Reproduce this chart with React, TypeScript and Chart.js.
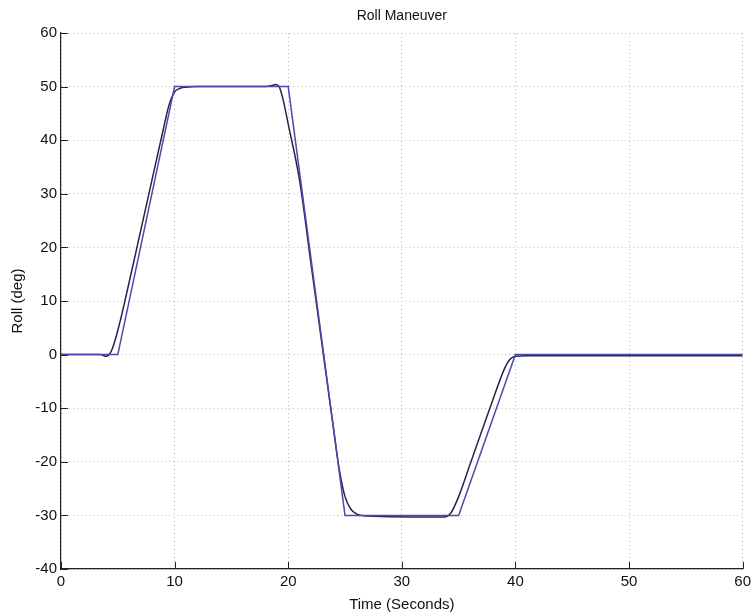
import React, { useEffect, useRef } from "react";
import { Chart, registerables } from "chart.js";

Chart.register(...registerables);

const chartTitle = "Roll Maneuver";
const xTitle = "Time (Seconds)";
const yTitle = "Roll (deg)";

const xTicks = [0, 10, 20, 30, 40, 50, 60];
const yTicks = [-40, -30, -20, -10, 0, 10, 20, 30, 40, 50, 60];

// commanded roll (trapezoid)
const timeCmd = [0, 5, 10, 20, 25, 35, 40, 60];
const rollCmd = [0, 0, 50, 50, -30, -30, 0, 0];

// measured roll response
const timeResp = [0, 3.5, 3.9, 4.2, 4.5, 5, 6, 7, 8, 9, 9.5, 10, 10.5, 11, 12, 18, 18.6, 18.9, 19.2, 19.5, 20, 21, 22, 23, 24, 24.5, 25, 25.5, 26, 27, 33.7, 34.3, 35, 36, 37, 38, 39, 39.5, 40, 41, 60];
const rollResp = [0, 0, -0.3, -0.1, 1, 4.5, 13.5, 23, 32.5, 42, 46.5, 49, 49.7, 49.9, 50, 50, 50.2, 50.4, 50, 48, 43, 32.5, 17, 1.5, -14, -21.5, -26.5, -28.8, -29.7, -30.1, -30.3, -29.6, -26.5, -20.5, -14.5, -8.5, -2.8, -0.9, -0.3, -0.2, -0.2];

const FONT = "Arial, 'Liberation Sans', Helvetica, sans-serif";

export default function App() {
  const ref = useRef<HTMLCanvasElement | null>(null);

  useEffect(() => {
    document.body.style.margin = "0";
    const canvas = ref.current;
    if (!canvas) return;

    const textPlugin = {
      id: "matlabDecor",
      afterDraw(chart: any) {
        const { ctx, chartArea, scales } = chart;
        const xs = scales.x;
        const ys = scales.y;
        ctx.save();
        ctx.strokeStyle = "#222";
        ctx.lineWidth = 1;
        ctx.beginPath();
        for (const t of xTicks) {
          const px = Math.round(xs.getPixelForValue(t)) + 0.5;
          ctx.moveTo(px, chartArea.bottom);
          ctx.lineTo(px, chartArea.bottom - 7);
        }
        for (const t of yTicks) {
          const py = Math.round(ys.getPixelForValue(t)) + 0.5;
          ctx.moveTo(chartArea.left, py);
          ctx.lineTo(chartArea.left + 7, py);
        }
        ctx.stroke();

        ctx.fillStyle = "#111";
        ctx.textAlign = "center";
        ctx.textBaseline = "middle";
        ctx.font = `14px ${FONT}`;
        ctx.fillText(chartTitle, (chartArea.left + chartArea.right) / 2, 16);
        ctx.font = `15px ${FONT}`;
        ctx.fillText(xTitle, (chartArea.left + chartArea.right) / 2, 605);
        ctx.translate(18, (chartArea.top + chartArea.bottom) / 2);
        ctx.rotate(-Math.PI / 2);
        ctx.fillText(yTitle, 0, 0);
        ctx.restore();
      },
    };

    const chart = new Chart(canvas, {
      type: "line",
      data: {
        datasets: [
          {
            label: "Command",
            data: timeCmd.map((t, i) => ({ x: t, y: rollCmd[i] })),
            borderColor: "#4a4aa8",
            borderWidth: 1.5,
            pointRadius: 0,
            tension: 0,
          },
          {
            label: "Response",
            data: timeResp.map((t, i) => ({ x: t, y: rollResp[i] })),
            borderColor: "#23234e",
            borderWidth: 1.5,
            pointRadius: 0,
            cubicInterpolationMode: "monotone",
          },
        ],
      },
      options: {
        animation: false,
        responsive: false,
        devicePixelRatio: 1,
        layout: { padding: { top: 33, right: 10, bottom: 0, left: 0 } },
        plugins: {
          legend: { display: false },
          title: { display: false },
          tooltip: { enabled: false },
        },
        scales: {
          x: {
            type: "linear",
            min: 0,
            max: 60,
            afterBuildTicks: (s: any) => {
              s.ticks = xTicks.map((v) => ({ value: v }));
            },
            afterFit: (s: any) => {
              s.height = 47;
            },
            ticks: {
              padding: 4,
              color: "#111",
              font: { family: FONT, size: 15 },
              maxRotation: 0,
            },
            grid: {
              color: "#b8b8b8",
              lineWidth: 1,
              drawTicks: false,
            },
            border: { display: true, color: "#222", width: 1.2, dash: [1, 3] },
          },
          y: {
            type: "linear",
            min: -40,
            max: 60,
            afterBuildTicks: (s: any) => {
              s.ticks = yTicks.map((v) => ({ value: v }));
            },
            afterFit: (s: any) => {
              s.width = 61;
            },
            ticks: {
              padding: 4,
              color: "#111",
              font: { family: FONT, size: 15 },
            },
            grid: {
              color: "#b8b8b8",
              lineWidth: 1,
              drawTicks: false,
            },
            border: { display: true, color: "#222", width: 1.2, dash: [1, 3] },
          },
        },
      },
      plugins: [textPlugin],
    });

    return () => chart.destroy();
  }, []);

  return (
    <div style={{ width: 755, height: 616, background: "#fff" }}>
      <canvas ref={ref} width={755} height={616} style={{ display: "block" }} />
    </div>
  );
}
